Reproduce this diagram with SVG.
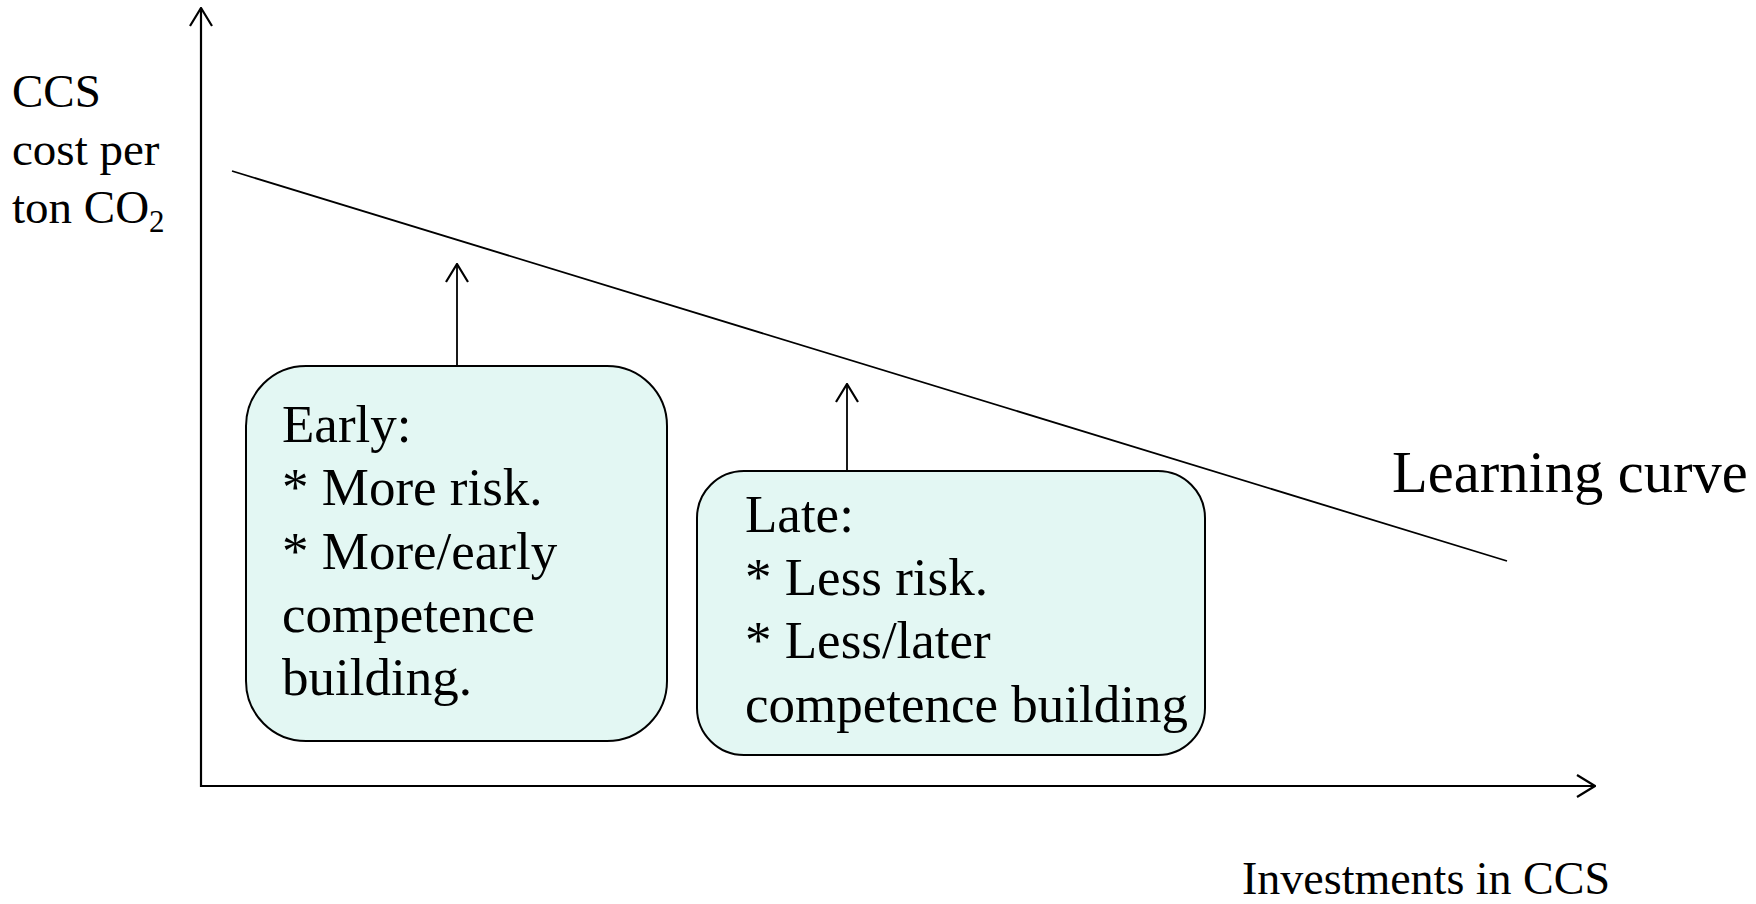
<svg xmlns="http://www.w3.org/2000/svg" width="1756" height="904" viewBox="0 0 1756 904">
<style>
text { font-family: "Liberation Serif", "Times New Roman", serif; fill: #000; }
.ax { stroke: #000; stroke-width: 2.2; fill: none; }
.ln { stroke: #000; stroke-width: 1.8; fill: none; }
.box { fill: #E3F7F3; stroke: #000; stroke-width: 2; }
.bt { font-size: 53px; }
</style>
<defs>
<marker id="ah" viewBox="0 0 20 24" refX="19" refY="12" markerWidth="20" markerHeight="24" markerUnits="userSpaceOnUse" orient="auto">
<path d="M1,1 L19,12 L1,23" fill="none" stroke="#000" stroke-width="2.2"/>
</marker>
</defs>
<rect width="1756" height="904" fill="#fff"/>
<g id="connectors">
<line class="ax" x1="201" y1="787" x2="201" y2="8" marker-end="url(#ah)"/>
<line class="ax" x1="200" y1="786" x2="1595" y2="786" marker-end="url(#ah)"/>
<line class="ln" x1="232" y1="171" x2="1507" y2="561"/>
<line class="ln" x1="457" y1="366" x2="457" y2="264" marker-end="url(#ah)"/>
<line class="ln" x1="847" y1="471" x2="847" y2="384" marker-end="url(#ah)"/>
</g>
<g id="y-label">
<text font-size="47" x="12" y="107">CCS</text>
<text font-size="47" x="12" y="165">cost per</text>
<text font-size="47" x="12" y="223">ton CO<tspan font-size="31" dy="9">2</tspan></text>
</g>
<g id="x-label">
<text font-size="46" x="1242" y="894">Investments in CCS</text>
</g>
<g id="curve-label">
<text font-size="58.5" x="1392" y="492">Learning curve</text>
</g>
<g id="early">
<rect class="box" x="246" y="366" width="421" height="375" rx="60" ry="60"/>
<text class="bt" x="282" y="442">Early:</text>
<text class="bt" x="282" y="505">* More risk.</text>
<text class="bt" x="282" y="569">* More/early</text>
<text class="bt" x="282" y="632">competence</text>
<text class="bt" x="282" y="695">building.</text>
</g>
<g id="late">
<rect class="box" x="697" y="471" width="508" height="284" rx="47" ry="47"/>
<text class="bt" x="745" y="532">Late:</text>
<text class="bt" x="745" y="595">* Less risk.</text>
<text class="bt" x="745" y="658">* Less/later</text>
<text class="bt" x="745" y="722">competence building</text>
</g>
</svg>
